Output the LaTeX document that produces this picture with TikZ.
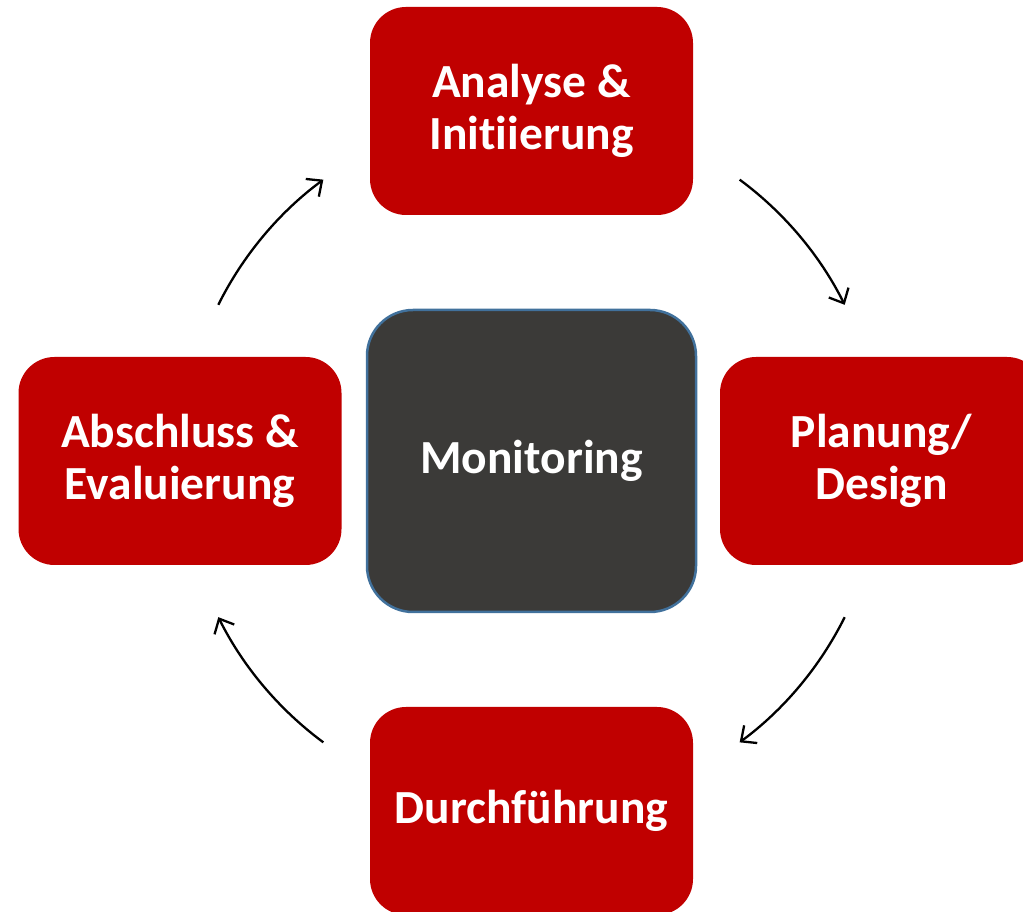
\documentclass[tikz,border=0pt]{standalone}
\usepackage{fontspec}
\setmainfont[Ligatures=NoCommon]{Carlito}
\usetikzlibrary{arrows.meta,calc}
\definecolor{boxred}{HTML}{C00000}
\definecolor{boxdark}{HTML}{3B3A38}
\definecolor{boxblue}{HTML}{41719C}
\begin{document}
\begin{tikzpicture}[x=1pt,y=1pt,
  phase/.style={fill=boxred, draw=none, rounded corners=36pt, minimum width=323pt, minimum height=208pt,
    text=white, align=center, font=\fontsize{47.5}{52}\selectfont\bfseries, inner sep=0pt},
  mon/.style={fill=boxdark, draw=boxblue, line width=2.5pt, rounded corners=46pt, minimum width=329pt, minimum height=302pt,
    text=white, align=center, font=\fontsize{47.5}{52}\selectfont\bfseries, inner sep=0pt},
  cyc/.style={draw=black, line width=2.3pt, -{Straight Barb[length=12pt,width=22pt,line width=2.3pt]}}]
\useasboundingbox (0,0) rectangle (1023,912);
\node[mon] (m) at (531.5,451) {Monitoring};
\node[phase] (t) at (531.5,801) {Analyse \&\\Initiierung};
\node[phase] (r) at (881.5,451) {Planung/\\Design};
\node[phase] (b) at (531.5,101) {Durchführung};
\node[phase] (l) at (180,451) {Abschluss \&\\Evaluierung};
\coordinate (c) at (m.center);
\draw[cyc] ($(c)+(53.5:350)$) arc[start angle=53.5,end angle=26.5,radius=350];
\draw[cyc] ($(c)+(-26.5:350)$) arc[start angle=-26.5,end angle=-53.5,radius=350];
\draw[cyc] ($(c)+(-126.5:350)$) arc[start angle=-126.5,end angle=-153.5,radius=350];
\draw[cyc] ($(c)+(153.5:350)$) arc[start angle=153.5,end angle=126.5,radius=350];
\end{tikzpicture}
\end{document}
